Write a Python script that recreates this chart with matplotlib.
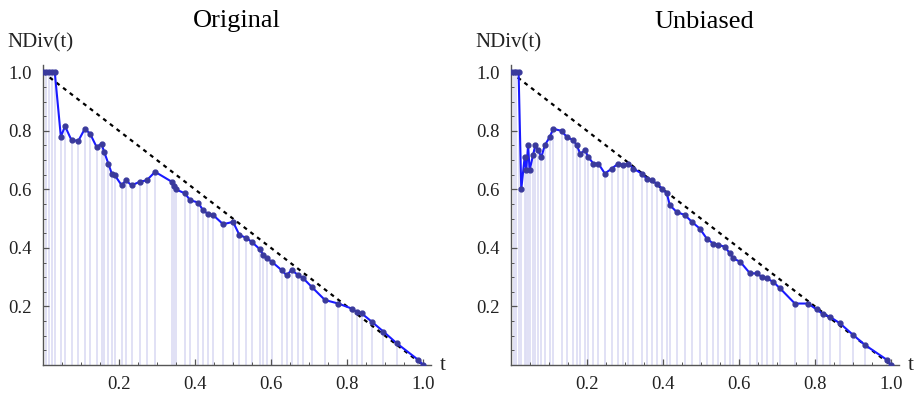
import matplotlib.pyplot as plt
from matplotlib.ticker import MultipleLocator, FormatStrFormatter

plt.rcParams['font.family'] = ['Liberation Serif', 'DejaVu Serif']

# normalised diversity, original sample
t_orig = [0, 0.008, 0.016, 0.024, 0.031, 0.047, 0.058, 0.075, 0.093, 0.11,
          0.124, 0.141, 0.154, 0.161, 0.172, 0.181, 0.189, 0.207, 0.218, 0.233,
          0.255, 0.273, 0.295, 0.339, 0.345, 0.35, 0.374, 0.387, 0.409, 0.42,
          0.435, 0.448, 0.474, 0.5, 0.517, 0.534, 0.549, 0.571, 0.58, 0.589,
          0.602, 0.628, 0.641, 0.654, 0.672, 0.685, 0.707, 0.742, 0.777, 0.812,
          0.825, 0.839, 0.865, 0.896, 0.931, 0.988, 1.0]
nd_orig = [1.0, 1.0, 1.0, 1.0, 1.0, 0.78, 0.816, 0.768, 0.766, 0.807,
           0.79, 0.745, 0.756, 0.728, 0.688, 0.654, 0.648, 0.614, 0.631, 0.614,
           0.626, 0.631, 0.66, 0.626, 0.611, 0.6, 0.586, 0.563, 0.555, 0.53,
           0.515, 0.512, 0.481, 0.489, 0.444, 0.435, 0.421, 0.395, 0.375, 0.364,
           0.353, 0.324, 0.307, 0.324, 0.307, 0.296, 0.267, 0.222, 0.21, 0.193,
           0.182, 0.176, 0.148, 0.114, 0.074, 0.017, 0.0]

# normalised diversity, unbiased sample
t_unb = [0, 0.007, 0.014, 0.02, 0.027, 0.036, 0.040, 0.045, 0.049, 0.058,
         0.064, 0.071, 0.080, 0.089, 0.102, 0.111, 0.133, 0.147, 0.164, 0.173,
         0.182, 0.195, 0.203, 0.217, 0.230, 0.247, 0.265, 0.282, 0.296, 0.309,
         0.322, 0.344, 0.357, 0.370, 0.383, 0.397, 0.41, 0.418, 0.436, 0.458,
         0.476, 0.497, 0.515, 0.532, 0.546, 0.563, 0.576, 0.585, 0.603, 0.629,
         0.647, 0.66, 0.673, 0.69, 0.708, 0.747, 0.782, 0.804, 0.822, 0.839,
         0.866, 0.901, 0.932, 0.99, 1.0]
nd_unb = [1.0, 1.0, 1.0, 1.0, 0.6, 0.711, 0.666, 0.751, 0.666, 0.717,
          0.751, 0.734, 0.711, 0.751, 0.779, 0.807, 0.80, 0.779, 0.768, 0.751,
          0.722, 0.734, 0.711, 0.688, 0.688, 0.654, 0.671, 0.688, 0.683, 0.688,
          0.671, 0.654, 0.637, 0.631, 0.62, 0.603, 0.586, 0.546, 0.523, 0.512,
          0.489, 0.466, 0.432, 0.415, 0.41, 0.404, 0.381, 0.364, 0.353, 0.313,
          0.313, 0.301, 0.296, 0.284, 0.262, 0.21, 0.21, 0.19, 0.173, 0.165,
          0.142, 0.102, 0.068, 0.017, 0.0]

panels = [("Original", t_orig, nd_orig), ("Unbiased", t_unb, nd_unb)]
lefts = [43 / 917, 511 / 917]

fig = plt.figure(figsize=(9.17, 3.93), dpi=100)
axis_col = '#555555'

for (title, t, nd), left in zip(panels, lefts):
    ax = fig.add_axes([left, 28 / 393, 387.6 / 917, 300 / 393])
    ax.set_xlim(0, 1.02)
    ax.set_ylim(0, 1.025)

    # filling to the axis
    ax.vlines(t, 0, nd, color='#dedef4', lw=1.3, zorder=1)
    # reference diagonal
    ax.plot([0, 1], [1, 0], color='black', lw=1.6, ls=(0, (1.8, 2.0)), zorder=2)
    ax.plot(t, nd, color='#1a1aff', lw=1.5, zorder=3)
    ax.plot(t, nd, ls='none', marker='o', ms=3.5, color='#3a3a9c', zorder=4)

    for s in ['top', 'right']:
        ax.spines[s].set_visible(False)
    for s in ['left', 'bottom']:
        ax.spines[s].set_color(axis_col)
        ax.spines[s].set_linewidth(1.0)

    ax.xaxis.set_minor_locator(MultipleLocator(0.05))
    ax.yaxis.set_minor_locator(MultipleLocator(0.05))
    ax.xaxis.set_major_formatter(FormatStrFormatter('%.1f'))
    ax.yaxis.set_major_formatter(FormatStrFormatter('%.1f'))
    ax.set_xticks([0.2, 0.4, 0.6, 0.8, 1.0])
    ax.set_yticks([0.2, 0.4, 0.6, 0.8, 1.0])
    ax.tick_params(which='major', direction='in', length=4, width=0.9,
                   color=axis_col, labelsize=13.5, labelcolor='#222222', pad=8)
    ax.tick_params(which='minor', direction='in', length=2.2, width=0.7,
                   color=axis_col)

    ax.set_title(title, fontsize=19, pad=27)
    ax.text(-0.095, 1.1, "NDiv(t)", fontsize=15, ha='left', va='center',
            color='#222222', clip_on=False)
    ax.text(1.045, 0.0, "t", fontsize=15, ha='left', va='center',
            color='#222222', clip_on=False)

fig.savefig("out.png", dpi=100)
